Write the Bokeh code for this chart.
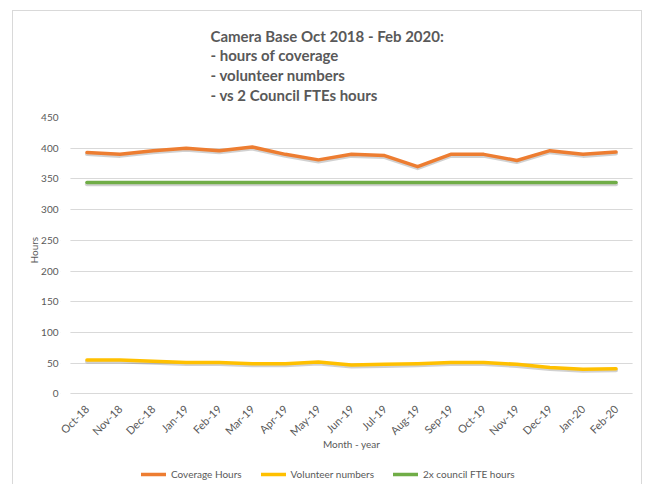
from bokeh.plotting import figure
from bokeh.models import (FactorRange, Range1d, FixedTicker, Title, Legend, LegendItem,
                          ColumnDataSource, BoxAnnotation)
from bokeh.transform import dodge
from bokeh.embed import file_html
from bokeh.resources import INLINE
import math

months = ["Oct-18", "Nov-18", "Dec-18", "Jan-19", "Feb-19", "Mar-19", "Apr-19", "May-19",
          "Jun-19", "Jul-19", "Aug-19", "Sep-19", "Oct-19", "Nov-19", "Dec-19", "Jan-20", "Feb-20"]
coverage_hours = [393, 390, 396, 400, 396, 402, 390, 381, 390, 388, 370, 390, 390, 380, 396, 390, 394]
volunteer_numbers = [55, 55, 53, 51, 51, 49, 49, 52, 47, 48, 49, 51, 51, 48, 43, 40, 41]
council_fte_hours = [344] * 17
y_ticks = [0, 50, 100, 150, 200, 250, 300, 350, 400, 450]

FONT = "Lato"
TXT = "#595959"
GRID = "#d9d9d9"

src = ColumnDataSource(dict(m=months, cov=coverage_hours, vol=volunteer_numbers, fte=council_fte_hours))

xr = FactorRange(*months, range_padding=0.3, range_padding_units="absolute")
# frame extends below 0 so the x axis (fixed at 0) and the legend sit inside the canvas
p = figure(width=630, height=474, x_range=xr, y_range=Range1d(-146, 450),
           output_backend="svg", toolbar_location=None,
           min_border_left=47, min_border_right=1, min_border_top=105, min_border_bottom=2)
p.styles = {"margin-left": "12px", "margin-top": "10px",
            "border-top": "1px solid #d9d9d9", "border-left": "1px solid #d9d9d9",
            "border-right": "1px solid #d9d9d9"}
p.outline_line_color = None
p.background_fill_color = "white"
p.border_fill_color = "white"

title = Title(text="Camera Base Oct 2018 - Feb 2020:\n- hours of coverage\n- volunteer numbers\n- vs 2 Council FTEs hours",
              align="left", offset=150, text_font=FONT, text_font_size="15px",
              text_font_style="bold", text_color=TXT, text_line_height=1.1, standoff=27)
p.add_layout(title, "above")

# grid / axes
p.xgrid.grid_line_color = None
p.ygrid.grid_line_color = GRID
p.ygrid.grid_line_width = 1
p.yaxis.ticker = FixedTicker(ticks=y_ticks)
for ax in (p.xaxis[0], p.yaxis[0]):
    ax.major_tick_line_color = None
    ax.minor_tick_line_color = None
    ax.major_label_text_font = FONT
    ax.major_label_text_font_size = "11px"
    ax.major_label_text_color = TXT
    ax.axis_label_text_font = FONT
    ax.axis_label_text_font_size = "10px"
    ax.axis_label_text_color = TXT
    ax.axis_label_text_font_style = "normal"
p.yaxis.major_label_text_font_size = "10px"
p.yaxis.axis_line_color = None
p.yaxis.major_label_standoff = -4
p.xaxis.axis_line_color = None
p.xaxis.fixed_location = 0
p.xaxis.axis_label = "Month - year"
p.xaxis.major_label_orientation = math.pi / 4
p.xaxis.major_label_standoff = 7
p.xaxis.axis_label_standoff = -7

ytitle = Title(text="Hours", align="left", offset=220, text_font=FONT, text_font_size="10px",
               text_font_style="normal", text_color=TXT, standoff=-2)
p.add_layout(ytitle, "left")

# mask the padded strips so grid lines span only the category area
for l, r in ((None, 0), (17, None)):
    p.add_layout(BoxAnnotation(left=l, right=r, fill_color="white", fill_alpha=1,
                               line_color=None, level="underlay"))

# shadows
for col in ("cov", "vol", "fte"):
    p.line(x="m", y=dodge(col, -2.5), source=src, line_color="#000000", line_alpha=0.18,
           line_width=4, line_cap="round", line_join="round")

r_cov = p.line(x="m", y="cov", source=src, line_color="#ED7D31", line_width=3.5,
               line_cap="round", line_join="round")
r_vol = p.line(x="m", y="vol", source=src, line_color="#FFC000", line_width=3.5,
               line_cap="round", line_join="round")
r_fte = p.line(x="m", y="fte", source=src, line_color="#70AD47", line_width=3.5,
               line_cap="round", line_join="round")

legend = Legend(items=[LegendItem(label="Coverage Hours", renderers=[r_cov]),
                       LegendItem(label="Volunteer numbers", renderers=[r_vol]),
                       LegendItem(label="2x council FTE hours", renderers=[r_fte])],
                orientation="horizontal", location=(81, 3),
                label_text_font=FONT, label_text_font_size="10px", label_text_color=TXT,
                glyph_width=25, glyph_height=10, label_standoff=5, spacing=19,
                border_line_color=None, background_fill_alpha=0, padding=2, margin=0)
p.add_layout(legend, "center")

open("out.html", "w").write(file_html(p, INLINE))
